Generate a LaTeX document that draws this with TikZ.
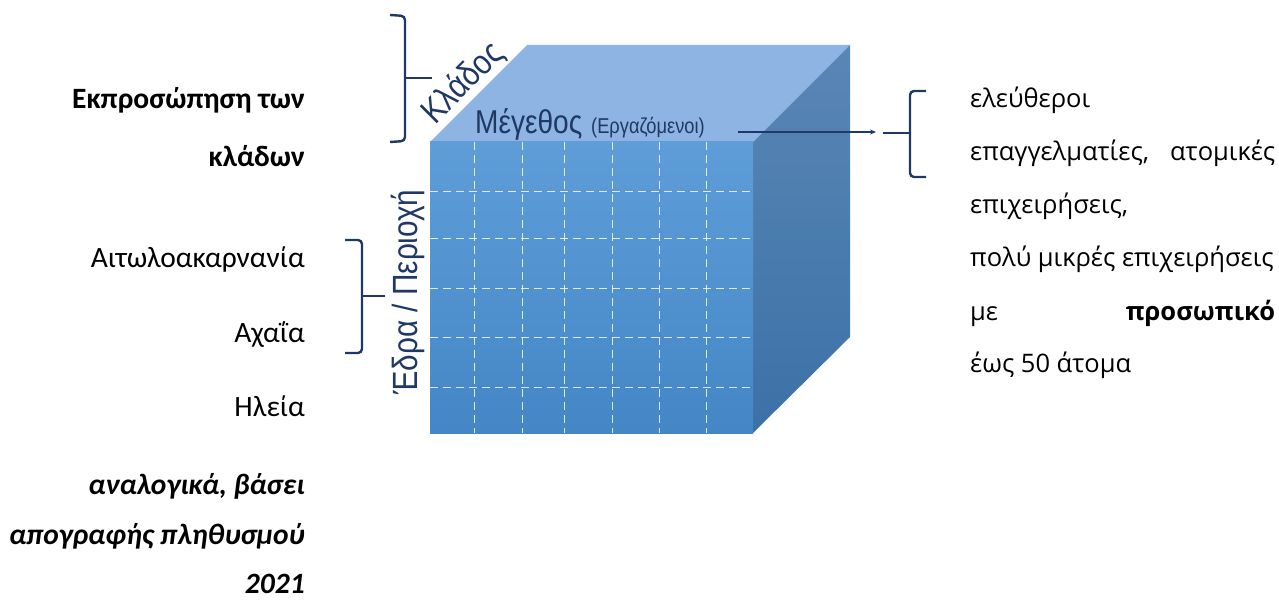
\documentclass[tikz,border=0pt]{standalone}
\usepackage{fontspec}
\setmainfont{Carlito}
\newfontfamily\rightfont{Open Sans}
\newfontfamily\cubefont[FakeStretch=0.85]{Liberation Sans}
\usetikzlibrary{positioning}
\usetikzlibrary{arrows.meta}

\definecolor{cubenavy}{RGB}{31,56,100}
\definecolor{topface}{RGB}{141,180,226}
\definecolor{fronttop}{RGB}{94,157,216}
\definecolor{frontbottom}{RGB}{68,134,198}
\definecolor{sidetop}{RGB}{90,134,181}
\definecolor{sidebottom}{RGB}{60,113,167}

\tikzset{
	leftlabel/.style={anchor=mid east, inner sep=0pt, font=\fontsize{29.5}{33}\selectfont},
	rightlabel/.style={anchor=mid west, inner sep=0pt, font=\rightfont\fontsize{25.5}{29}\selectfont},
	cubelabel/.style={text=cubenavy, inner sep=0pt},
	bracket/.style={draw=cubenavy, line width=2.4pt, rounded corners=4pt},
	gridline/.style={draw=white, dash pattern=on 8pt off 5pt, line width=1pt, opacity=0.8},
}

\begin{document}
\begin{tikzpicture}[x=1pt, y=-1pt]
			\useasboundingbox (0,0) rectangle (1279,601);
			% cube
			\fill[topface] (430,142) -- (527,45) -- (850,45) -- (753,142) -- cycle;
			\shade[top color=sidetop, bottom color=sidebottom] (753,142) -- (850,45) -- (850,337) -- (753,433) -- cycle;
			\shade[top color=fronttop, bottom color=frontbottom] (430,142) rectangle (753,433);
			\foreach \x in {474,522,564,612,659,706}
				\draw[gridline] (\x,142) -- (\x,433);
			\foreach \y in {192,239,289,338,387}
				\draw[gridline] (430,\y) -- (753,\y);
			% cube labels
			\node[cubelabel, rotate=45, font=\cubefont\fontsize{35}{35}\selectfont] (klados) at (463,83) {Κλάδος};
			\node[cubelabel, anchor=base west, font=\cubefont\fontsize{33}{33}\selectfont] (megethos) at (475,134) {Μέγεθος};
			\node[cubelabel, anchor=base west, font=\cubefont\fontsize{21.5}{21.5}\selectfont] (ergaz) at (591,134) {(Εργαζόμενοι)};
			\node[cubelabel, rotate=90, font=\cubefont\fontsize{35}{35}\selectfont] (edra) at (408,292) {Έδρα / Περιοχή};
			% brackets
			\draw[bracket] (390,15) -- (405,16) -- (405,141) -- (390,142);
			\draw[bracket] (405,78) -- (432,78);
			\draw[bracket] (345,240) -- (362,240) -- (362,353) -- (345,353);
			\draw[bracket] (362,296) -- (385,296);
			\draw[bracket] (926,91) -- (910,91) -- (910,177) -- (926,177);
			\coordinate (bracetip) at (883,133);
			\draw[bracket] (910,133) -- (bracetip);
			\coordinate (arrowstart) at (738,132);
			\draw[cubenavy, line width=1.3pt, -{Stealth[length=6pt, width=5pt]}] (arrowstart) -- ([xshift=-7pt]bracetip |- arrowstart);
			% left column
			\node[leftlabel] (ekpr) at (305,106) {\textbf{Εκπροσώπηση των}};
			\node[leftlabel] (kladon) at (305,164) {\textbf{κλάδων}};
			\node[leftlabel] (aitol) at (305,265) {Αιτωλοακαρνανία};
			\node[leftlabel] (achaia) at (305,340) {Αχαΐα};
			\node[leftlabel] (ileia) at (305,414) {Ηλεία};
			\node[leftlabel] (analog) at (305,492) {\textbf{\textit{αναλογικά, βάσει}}};
			\node[leftlabel] (apogr) at (305,542) {\textbf{\textit{απογραφής πληθυσμού}}};
			\node[leftlabel] (etos) at (305,591) {\textbf{\textit{2021}}};
			% right column
			\node[rightlabel] (eleft) at (970,105) {ελεύθεροι};
			\node[rightlabel, text width=305pt] (epagg) at (970,158) {\noindent επαγγελματίες,\hfill ατομικές};
			\node[rightlabel] (epix) at (970,211) {επιχειρήσεις,};
			\node[rightlabel] (mikres) at (970,264) {πολύ μικρές επιχειρήσεις};
			\node[rightlabel, text width=305pt] (prosop) at (970,318) {\noindent με\hfill \textbf{προσωπικό}};
			\node[rightlabel] (atoma) at (970,370) {έως 50 άτομα};
\end{tikzpicture}
\end{document}
